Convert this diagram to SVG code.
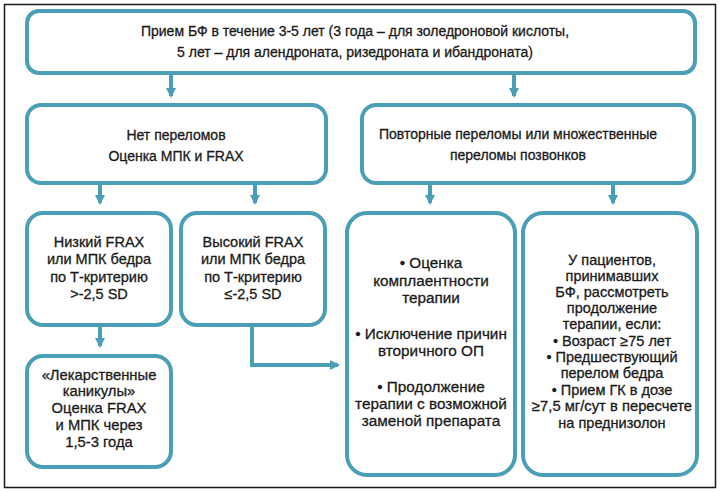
<svg xmlns="http://www.w3.org/2000/svg" width="720" height="492" viewBox="0 0 720 492">
<defs>
<marker id="ah" markerWidth="10" markerHeight="10" refX="8" refY="5" orient="auto" markerUnits="userSpaceOnUse">
<path d="M0,0 L10,5 L0,10 Z" fill="#4a9fb6"/>
</marker>
<style>
.box{fill:#fff;stroke:#4a9fb6;stroke-width:4}
.c{fill:none;stroke:#4a9fb6;stroke-width:4}
text{font-family:"Liberation Sans",Arial,sans-serif;font-size:14px;fill:#1a1a1a;stroke:#1a1a1a;stroke-width:0.3;text-anchor:middle}
.s{font-size:14.5px}
.m{font-size:15.3px}
.e{font-size:14.8px}
</style>
</defs>
<rect x="0" y="0" width="720" height="492" fill="#fff"/>
<rect x="4.5" y="4.5" width="711" height="483" fill="none" stroke="#1a1a1a" stroke-width="1.5"/>
<g id="connectors">
<path class="c" d="M171,75 V96" marker-end="url(#ah)"/>
<path class="c" d="M514,75 V96" marker-end="url(#ah)"/>
<path class="c" d="M100,184 V203" marker-end="url(#ah)"/>
<path class="c" d="M255,184 V203" marker-end="url(#ah)"/>
<path class="c" d="M430,184 V203" marker-end="url(#ah)"/>
<path class="c" d="M613,184 V203" marker-end="url(#ah)"/>
<path class="c" d="M100,327 V346" marker-end="url(#ah)"/>
<path class="c" d="M252,327 V365 H338" marker-end="url(#ah)"/>
</g>
<g id="top">
<rect class="box" x="27" y="11" width="668" height="62" rx="12"/>
<text x="355" y="36">Прием БФ в течение 3-5 лет (3 года – для золедроновой кислоты,</text>
<text x="355" y="57">5 лет – для алендроната, ризедроната и ибандроната)</text>
</g>
<g id="no-fracture">
<rect class="box" x="27" y="105" width="299" height="78" rx="14"/>
<text x="176" y="140">Нет переломов</text>
<text x="176" y="161">Оценка МПК и FRAX</text>
</g>
<g id="repeat-fracture">
<rect class="box" x="362" y="105" width="332" height="78" rx="14"/>
<text x="518" y="139">Повторные переломы или множественные</text>
<text x="518" y="160">переломы позвонков</text>
</g>
<g id="low-frax">
<rect class="box" x="27" y="213" width="144" height="112" rx="16"/>
<text class="s" x="99" y="247">Низкий FRAX</text>
<text class="s" x="99" y="264">или МПК бедра</text>
<text class="s" x="99" y="282">по Т-критерию</text>
<text class="s" x="99" y="299">&gt;-2,5 SD</text>
</g>
<g id="high-frax">
<rect class="box" x="181" y="213" width="144" height="112" rx="16"/>
<text class="s" x="253" y="247">Высокий FRAX</text>
<text class="s" x="253" y="264">или МПК бедра</text>
<text class="s" x="253" y="282">по Т-критерию</text>
<text class="s" x="253" y="299">≤-2,5 SD</text>
</g>
<g id="holiday">
<rect class="box" x="27" y="356" width="144" height="111" rx="16"/>
<text class="e" x="99" y="380">«Лекарственные</text>
<text class="e" x="99" y="396">каникулы»</text>
<text class="e" x="99" y="413">Оценка FRAX</text>
<text class="e" x="99" y="430">и МПК через</text>
<text class="e" x="99" y="447">1,5-3 года</text>
</g>
<g id="therapy-eval">
<rect class="box" x="347" y="213" width="168" height="262" rx="20"/>
<text class="m" x="431" y="268">• Оценка</text>
<text class="m" x="431" y="286">комплаентности</text>
<text class="m" x="431" y="303">терапии</text>
<text class="m" x="431" y="339">• Исключение причин</text>
<text class="m" x="431" y="356">вторичного ОП</text>
<text class="m" x="431" y="392">• Продолжение</text>
<text class="m" x="431" y="409">терапии с возможной</text>
<text class="m" x="431" y="426">заменой препарата</text>
</g>
<g id="continue">
<rect class="box" x="523" y="213" width="174" height="262" rx="20"/>
<text class="s" x="612" y="265">У пациентов,</text>
<text class="s" x="612" y="281">принимавших</text>
<text class="s" x="612" y="297">БФ, рассмотреть</text>
<text class="s" x="612" y="313">продолжение</text>
<text class="s" x="612" y="329">терапии, если:</text>
<text class="s" x="612" y="346">• Возраст ≥75 лет</text>
<text class="s" x="612" y="362">• Предшествующий</text>
<text class="s" x="612" y="378">перелом бедра</text>
<text class="s" x="612" y="395">• Прием ГК в дозе</text>
<text class="s" x="612" y="411" textLength="160" lengthAdjust="spacingAndGlyphs">≥7,5 мг/сут в пересчете</text>
<text class="s" x="612" y="428">на преднизолон</text>
</g>
</svg>
